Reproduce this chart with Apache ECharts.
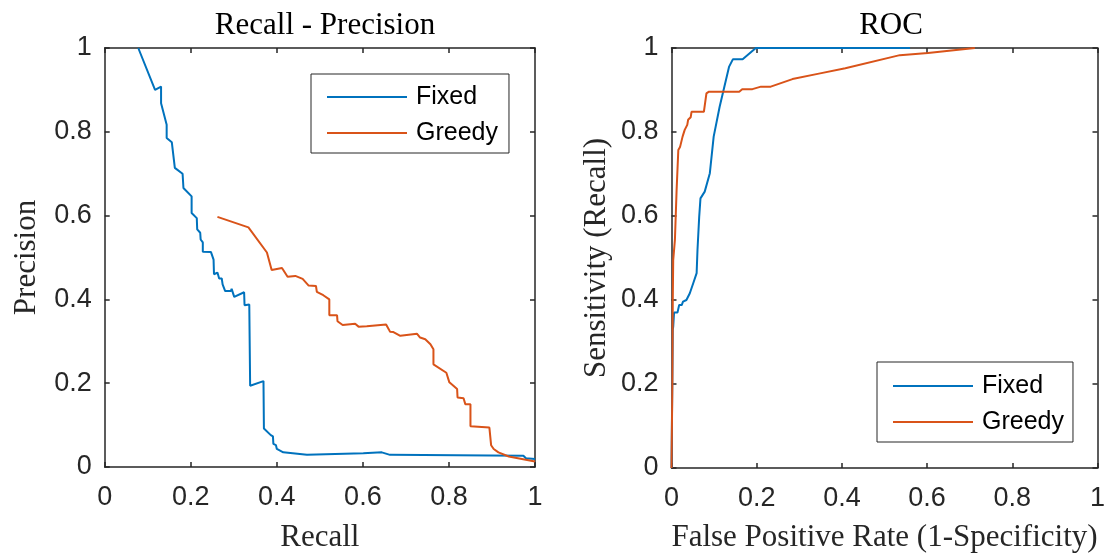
<!DOCTYPE html>
<html>
<head>
<meta charset="utf-8">
<script src="https://cdn.jsdelivr.net/npm/echarts@6/dist/echarts.min.js"></script>
<style>
html,body{margin:0;padding:0;background:#fff;}
#chart{width:1108px;height:558px;}
</style>
</head>
<body>
<div id="chart"></div>
<script>
// ---- Data ----
const seriesNames = ['Fixed', 'Greedy'];
const titles = ['Recall - Precision', 'ROC'];

// Recall - Precision : [recall, precision]
const prFixed = [
  [0.078,1.0],[0.117,0.9],[0.131,0.908],[0.131,0.868],[0.144,0.817],[0.144,0.785],[0.156,0.775],
  [0.163,0.714],[0.181,0.700],[0.183,0.666],[0.202,0.646],[0.202,0.606],[0.214,0.594],[0.215,0.567],
  [0.222,0.559],[0.223,0.543],[0.228,0.536],[0.228,0.514],[0.247,0.513],[0.253,0.495],[0.254,0.460],
  [0.262,0.464],[0.266,0.45],[0.272,0.45],[0.274,0.436],[0.278,0.433],[0.280,0.420],[0.293,0.420],
  [0.295,0.425],[0.299,0.422],[0.301,0.406],[0.324,0.417],[0.325,0.386],[0.336,0.388],[0.338,0.194],
  [0.369,0.205],[0.370,0.092],[0.386,0.076],[0.391,0.073],[0.392,0.055],[0.398,0.052],[0.400,0.043],
  [0.415,0.035],[0.470,0.029],[0.601,0.033],[0.644,0.035],[0.663,0.029],[0.973,0.027],[0.979,0.021],
  [1.0,0.019]
];
const prGreedy = [
  [0.262,0.597],[0.334,0.572],[0.377,0.512],[0.388,0.470],[0.412,0.475],[0.425,0.454],[0.443,0.456],
  [0.460,0.449],[0.474,0.433],[0.491,0.432],[0.493,0.418],[0.508,0.410],[0.522,0.400],[0.522,0.362],
  [0.540,0.362],[0.541,0.348],[0.553,0.339],[0.582,0.342],[0.590,0.335],[0.609,0.336],[0.654,0.340],
  [0.660,0.329],[0.663,0.323],[0.671,0.322],[0.687,0.313],[0.726,0.318],[0.733,0.309],[0.745,0.305],
  [0.757,0.293],[0.764,0.281],[0.764,0.245],[0.794,0.225],[0.801,0.202],[0.819,0.186],[0.820,0.166],
  [0.834,0.164],[0.838,0.150],[0.850,0.150],[0.850,0.097],[0.894,0.094],[0.898,0.052],[0.904,0.043],
  [0.915,0.035],[0.939,0.025],[1.0,0.013]
];

// ROC : [false positive rate, sensitivity]
const rocFixed = [
  [0,0],[0.003,0.33],[0.004,0.336],[0.006,0.370],[0.014,0.370],[0.018,0.388],[0.024,0.388],
  [0.027,0.396],[0.035,0.400],[0.043,0.416],[0.051,0.440],[0.059,0.464],[0.061,0.519],[0.065,0.598],
  [0.068,0.642],[0.078,0.658],[0.090,0.702],[0.099,0.789],[0.113,0.860],[0.135,0.955],[0.144,0.973],
  [0.167,0.973],[0.198,1.0],[0.560,1.0]
];
const rocGreedy = [
  [0,0],[0.002,0.20],[0.003,0.40],[0.004,0.495],[0.008,0.543],[0.012,0.662],[0.016,0.757],
  [0.020,0.764],[0.026,0.789],[0.031,0.805],[0.037,0.817],[0.039,0.829],[0.045,0.835],[0.047,0.848],
  [0.076,0.848],[0.082,0.892],[0.088,0.896],[0.159,0.896],[0.166,0.902],[0.190,0.902],[0.210,0.908],
  [0.233,0.908],[0.284,0.926],[0.346,0.939],[0.408,0.952],[0.536,0.983],[0.602,0.988],[0.712,1.0]
];

const axisNames = {
  x: ['Recall', 'False Positive Rate (1-Specificity)'],
  y: ['Precision', 'Sensitivity (Recall)']
};

// ---- Styling ----
const AX = '#262626';
const BLUE = '#0072BD';
const ORANGE = '#D95319';
const SANS = 'Liberation Sans, Arial, Helvetica, sans-serif';
const SERIF = 'Liberation Serif, Times New Roman, serif';

function mkX(grid, pos, showLabel, name, gap) {
  return {
    type: 'value', gridIndex: grid, position: pos, min: 0, max: 1, interval: 0.2,
    name: name || '', nameLocation: 'middle', nameGap: gap || 54,
    nameTextStyle: {fontFamily: SERIF, fontSize: 31, color: AX},
    axisLine: {show: true, onZero: false, lineStyle: {color: AX, width: 1.5}},
    axisTick: {show: true, inside: true, length: 5, lineStyle: {color: AX, width: 1.5}},
    axisLabel: {show: showLabel, margin: 17, fontFamily: SANS, fontSize: 27, color: AX},
    splitLine: {show: false}
  };
}
function mkY(grid, pos, showLabel, name, gap) {
  return {
    type: 'value', gridIndex: grid, position: pos, min: 0, max: 1, interval: 0.2,
    name: name || '', nameLocation: 'middle', nameGap: gap || 60, nameRotate: 90,
    nameTextStyle: {fontFamily: SERIF, fontSize: 31, color: AX},
    axisLine: {show: true, onZero: false, lineStyle: {color: AX, width: 1.5}},
    axisTick: {show: true, inside: true, length: 5, lineStyle: {color: AX, width: 1.5}},
    axisLabel: {show: showLabel, margin: 13, fontFamily: SANS, fontSize: 27, color: AX},
    splitLine: {show: false}
  };
}
function mkLine(name, data, xi, yi, color) {
  return {
    type: 'line', name: name, data: data, xAxisIndex: xi, yAxisIndex: yi,
    showSymbol: false, symbol: 'none', clip: true, z: 5,
    lineStyle: {color: color, width: 2}, itemStyle: {color: color}
  };
}
function mkLegend(left, top, gap, pad) {
  return {
    orient: 'vertical', left: left, top: top, data: seriesNames,
    icon: 'rect', itemWidth: 80, itemHeight: 2, itemGap: gap,
    padding: pad, borderColor: AX, borderWidth: 1, backgroundColor: '#fff',
    textStyle: {fontFamily: SANS, fontSize: 25, color: '#000', padding: [4, 0, 0, 4]}
  };
}

const chart = echarts.init(document.getElementById('chart'), null, {renderer: 'canvas'});
chart.setOption({
  animation: false,
  backgroundColor: '#fff',
  title: [
    {text: titles[0], left: 320, top: 5, textAlign: 'center',
     textStyle: {fontFamily: SERIF, fontSize: 31, fontWeight: 'normal', color: '#000'}},
    {text: titles[1], left: 886, top: 5, textAlign: 'center',
     textStyle: {fontFamily: SERIF, fontSize: 31, fontWeight: 'normal', color: '#000'}}
  ],
  grid: [
    {left: 104.7, right: 573, top: 48, bottom: 90},
    {left: 671.5, right: 7, top: 48, bottom: 90}
  ],
  xAxis: [
    mkX(0, 'bottom', true, axisNames.x[0], 55),
    mkX(0, 'top', false),
    mkX(1, 'bottom', true, axisNames.x[1], 54),
    mkX(1, 'top', false)
  ],
  yAxis: [
    mkY(0, 'left', true, axisNames.y[0], 62),
    mkY(0, 'right', false),
    mkY(1, 'left', true, axisNames.y[1], 59),
    mkY(1, 'right', false)
  ],
  legend: [
    mkLegend(311, 74, 11, [10.5, 11, 7.5, 16]),
    mkLegend(877, 362, 11, [11.5, 9, 7.5, 16])
  ],
  series: [
    mkLine(seriesNames[0], prFixed, 0, 0, BLUE),
    mkLine(seriesNames[1], prGreedy, 0, 0, ORANGE),
    mkLine(seriesNames[0], rocFixed, 2, 2, BLUE),
    mkLine(seriesNames[1], rocGreedy, 2, 2, ORANGE)
  ]
});
</script>
</body>
</html>
